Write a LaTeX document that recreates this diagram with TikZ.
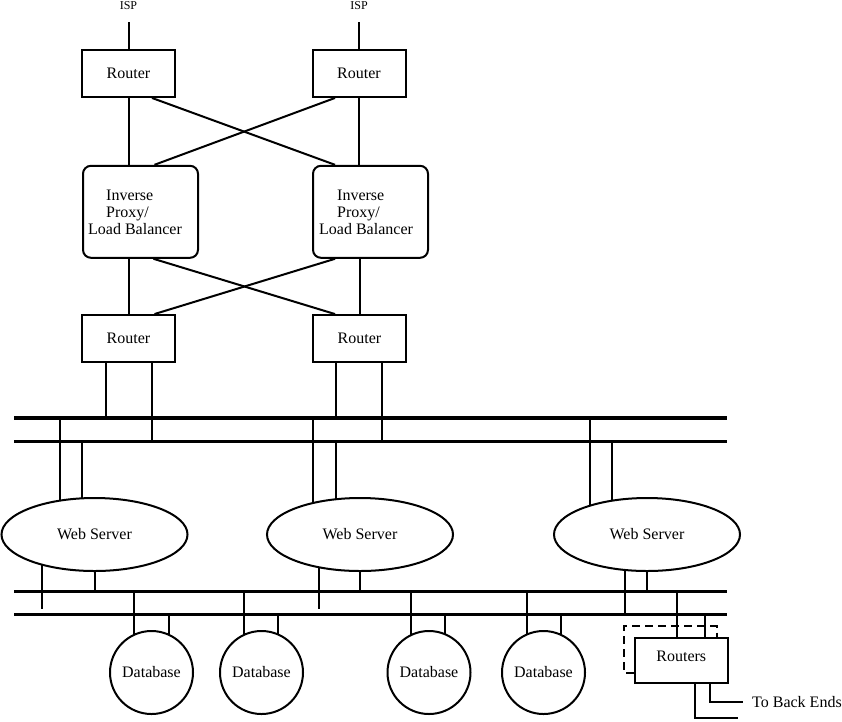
\documentclass[tikz,border=0pt]{standalone}
\usepackage{fontspec}
\setmainfont{Liberation Serif}
\usetikzlibrary{shapes.geometric,calc}
\newcommand\diaglbl{\fontsize{16}{17}\selectfont}
\newcommand\diagsmall{\fontsize{12}{14}\selectfont}
\tikzset{
  link/.style={line width=2pt},
  bus/.style={line width=3.6pt},
  dashlink/.style={line width=2pt, dash pattern=on 8pt off 5pt},
  rbox/.style={draw, line width=2pt, rectangle, inner sep=0pt, minimum width=93pt, minimum height=46.5pt, font=\diaglbl},
  lbbox/.style={draw, line width=2pt, rectangle, rounded corners=8pt, inner sep=0pt, minimum width=115pt, minimum height=92pt},
  lbtext/.style={inner sep=0pt, align=left, anchor=north west, font=\diaglbl},
  ws/.style={ellipse, draw, line width=2pt, minimum width=186pt, minimum height=73pt, inner sep=0pt, font=\diaglbl},
  db/.style={circle, draw, line width=2pt, minimum size=83pt, inner sep=0pt, font=\diaglbl},
  plain/.style={inner sep=0pt, font=\diaglbl},
}
\begin{document}
\begin{tikzpicture}[x=1pt, y=-1pt]
\path[use as bounding box] (0,0) rectangle (842,721);

% ISP labels
\node[inner sep=0pt, font=\diagsmall] (isp1) at (128.5,5.5) {ISP};
\node[inner sep=0pt, font=\diagsmall] (isp2) at (359,5.5) {ISP};
\coordinate (isp1e) at (128.5,22);
\coordinate (isp2e) at (359,22);

% top routers
\node[rbox] (r1) at (128.5,73.7) {Router};
\node[rbox] (r2) at (359,73.7) {Router};

% load balancers
\node[lbbox] (lb1) at (140.5,211.8) {};
\node[lbbox] (lb2) at (370.5,211.8) {};
\node[lbtext] (lb1t) at (88,190) {\hspace*{18pt}Inverse\\\hspace*{18pt}Proxy/\\Load Balancer};
\node[lbtext] (lb2t) at (319,190) {\hspace*{18pt}Inverse\\\hspace*{18pt}Proxy/\\Load Balancer};

% middle routers
\node[rbox] (r3) at (128.5,338.3) {Router};
\node[rbox] (r4) at (359.5,338.3) {Router};

% buses
\coordinate (b1w) at (14,418);   \coordinate (b1e) at (727,418);
\coordinate (b2w) at (14,441.5); \coordinate (b2e) at (727,441.5);
\coordinate (b3w) at (14,591.5); \coordinate (b3e) at (727,591.5);
\coordinate (b4w) at (14,614.5); \coordinate (b4e) at (727,614.5);
\draw[bus] (b1w) -- (b1e);
\draw[bus] (b2w) -- (b2e);
\draw[bus] (b3w) -- (b3e);
\draw[bus] (b4w) -- (b4e);

% web servers
\node[ws] (ws1) at (94.5,534.5) {Web Server};
\node[ws] (ws2) at (360,534.5) {Web Server};
\node[ws] (ws3) at (647,534.5) {Web Server};

% databases
\node[db] (db1) at (151.5,672.5) {Database};
\node[db] (db2) at (261.5,672.5) {Database};
\node[db] (db3) at (429,672.5) {Database};
\node[db] (db4) at (543.5,672.5) {Database};

% back-end routers
\node[rbox, minimum height=45pt, text depth=9pt] (rt) at (681.3,660.8) {Routers};
\node[plain, anchor=west] (tbe) at (752,702) {To Back Ends};

% ISP links
\draw[link] (isp1e) -- (r1.north);
\draw[link] (isp2e) -- (r2.north);

% routers to load balancers
\draw[link] (r1.south) -- (r1.south |- lb1.north);
\draw[link] (r2.south) -- (r2.south |- lb2.north);
\draw[link] ([xshift=23.5pt]r1.south) -- ([xshift=-35.5pt]lb2.north);
\draw[link] ([xshift=-24pt]r2.south) -- ([xshift=14pt]lb1.north);

% load balancers to routers
\draw[link] (r3.north |- lb1.south) -- (r3.north);
\draw[link] (r4.north |- lb2.south) -- (r4.north);
\draw[link] ([xshift=13pt]lb1.south) -- ([xshift=-24.5pt]r4.north);
\draw[link] ([xshift=-35.5pt]lb2.south) -- ([xshift=26pt]r3.north);

% routers to upper buses
\draw[link] ([xshift=-22.5pt]r3.south) -- ([xshift=-22.5pt]r3.south |- b1w);
\draw[link] ([xshift=23.5pt]r3.south) -- ([xshift=23.5pt]r3.south |- b2w);
\draw[link] ([xshift=-23.5pt]r4.south) -- ([xshift=-23.5pt]r4.south |- b1w);
\draw[link] ([xshift=22.5pt]r4.south) -- ([xshift=22.5pt]r4.south |- b2w);

% web server border points
\coordinate (ws1a) at ($(ws1.center)+(-35,-33.8)$);
\coordinate (ws1b) at ($(ws1.center)+(-12.5,-36.2)$);
\coordinate (ws1c) at ($(ws1.center)+(-52.5,30.1)$);
\coordinate (ws2a) at ($(ws2.center)+(-47,-31.5)$);
\coordinate (ws2b) at ($(ws2.center)+(-24,-35.3)$);
\coordinate (ws2c) at ($(ws2.center)+(-41,32.8)$);
\coordinate (ws3a) at ($(ws3.center)+(-57,-28.8)$);
\coordinate (ws3b) at ($(ws3.center)+(-35,-33.8)$);
\coordinate (ws3c) at ($(ws3.center)+(-22,35.5)$);
\coordinate (ws1e) at (42,609);
\coordinate (ws2e) at (319,609);

% upper buses to web servers
\draw[link] (b1w -| ws1a) -- (ws1a);
\draw[link] (b2w -| ws1b) -- (ws1b);
\draw[link] (b1w -| ws2a) -- (ws2a);
\draw[link] (b2w -| ws2b) -- (ws2b);
\draw[link] (b1w -| ws3a) -- (ws3a);
\draw[link] (b2w -| ws3b) -- (ws3b);

% web servers to lower buses
\draw[link] (ws1c) -- (ws1e);
\draw[link] (ws1.south) -- (ws1.south |- b3w);
\draw[link] (ws2c) -- (ws2e);
\draw[link] (ws2.south) -- (ws2.south |- b3w);
\draw[link] (ws3c) -- (ws3c |- b4w);
\draw[link] (ws3.south) -- (ws3.south |- b3w);

% database border points
\coordinate (db1a) at ($(db1.center)+(-17.5,-37.6)$);
\coordinate (db1b) at ($(db1.center)+(17.5,-37.6)$);
\coordinate (db2a) at ($(db2.center)+(-17.5,-37.6)$);
\coordinate (db2b) at ($(db2.center)+(16.5,-38.1)$);
\coordinate (db3a) at ($(db3.center)+(-18,-37.4)$);
\coordinate (db3b) at ($(db3.center)+(16,-38.3)$);
\coordinate (db4a) at ($(db4.center)+(-16.5,-38.1)$);
\coordinate (db4b) at ($(db4.center)+(17.5,-37.6)$);

% lower buses to databases
\draw[link] (b3w -| db1a) -- (db1a);
\draw[link] (b4w -| db1b) -- (db1b);
\draw[link] (b3w -| db2a) -- (db2a);
\draw[link] (b4w -| db2b) -- (db2b);
\draw[link] (b3w -| db3a) -- (db3a);
\draw[link] (b4w -| db3b) -- (db3b);
\draw[link] (b3w -| db4a) -- (db4a);
\draw[link] (b4w -| db4b) -- (db4b);

% lower buses to back-end routers
\coordinate (rta) at ([xshift=-4.6pt]rt.north);
\coordinate (rtb) at ([xshift=23.7pt]rt.north);
\draw[link] (b3w -| rta) -- (rta);
\draw[link] (b4w -| rtb) -- (rtb);

% dashed loop
\coordinate (dc1) at (624,626);
\draw[dashlink] ([yshift=-12pt]rt.west) -| (dc1) -| ([xshift=35.4pt]rt.north);

% to back ends
\coordinate (be1) at (738,718.3);
\draw[link] ([xshift=13.7pt]rt.south) |- (be1);
\draw[link] ([xshift=28.7pt]rt.south) |- ([xshift=-9pt]tbe.west);
\end{tikzpicture}
\end{document}
